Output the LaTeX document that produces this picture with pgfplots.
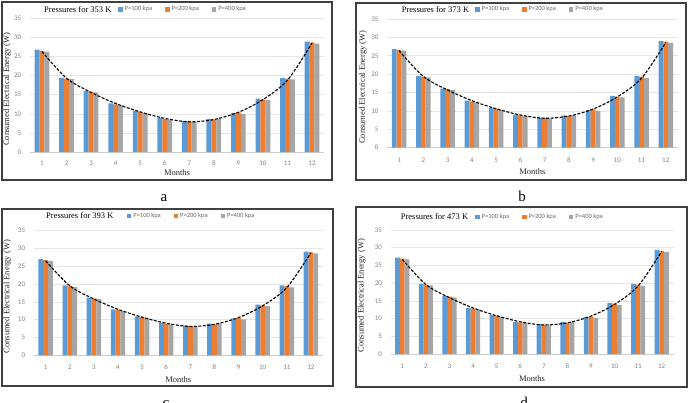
\documentclass[border=0pt]{standalone}
\usepackage{pgfplots}
\pgfplotsset{compat=1.18}
\usepackage{pgfplotstable}
\usepackage{fontspec}
\setmainfont{Liberation Serif}
\setsansfont{Carlito}

\definecolor{seriesA}{HTML}{5B9BD5}
\definecolor{seriesB}{HTML}{ED7D31}
\definecolor{seriesC}{HTML}{A5A5A5}
\definecolor{frame}{HTML}{404040}

% columns: month, P=100/200/400 kpa, fitted trend
\pgfplotstableread{
m  p100 p200 p400 trend
1  26.8 26.5 26.3 26.3
2  19.4 19.2 19.1 19.3
3  16.0 15.8 15.6 15.6
4  12.7 12.5 12.2 12.7
5  10.7 10.5 10.2 10.5
6  8.9  8.7  8.5  8.8
7  8.1  8.0  7.8  7.9
8  8.7  8.5  8.7  8.5
9  10.2 10.3 9.9  10.4
10 14.0 13.8 13.6 13.7
11 19.4 19.2 19.0 18.8
12 28.9 28.7 28.4 28.5
}\tabA
\pgfplotstableread{
m  p100 p200 p400 trend
1  26.8 26.6 26.4 26.4
2  19.5 19.3 19.1 19.4
3  16.1 15.9 15.7 15.7
4  12.8 12.6 12.3 12.8
5  10.8 10.6 10.3 10.6
6  9.0  8.8  8.6  8.9
7  8.2  8.1  7.9  8.0
8  8.8  8.6  8.8  8.6
9  10.3 10.4 10.0 10.5
10 14.1 13.9 13.7 13.8
11 19.5 19.3 19.0 18.9
12 29.0 28.8 28.5 28.6
}\tabB
\pgfplotstableread{
m  p100 p200 p400 trend
1  27.0 26.7 26.5 26.5
2  19.6 19.4 19.2 19.5
3  16.2 16.0 15.8 15.8
4  12.9 12.7 12.4 12.9
5  10.9 10.7 10.4 10.7
6  9.0  8.8  8.7  9.0
7  8.3  8.2  8.0  8.1
8  8.9  8.7  8.9  8.7
9  10.4 10.5 10.1 10.6
10 14.2 14.0 13.8 13.9
11 19.6 19.4 19.1 19.0
12 29.1 28.9 28.6 28.8
}\tabC
\pgfplotstableread{
m  p100 p200 p400 trend
1  27.2 26.9 26.7 26.7
2  19.8 19.6 19.4 19.6
3  16.4 16.2 16.0 15.9
4  13.0 12.8 12.6 13.0
5  11.0 10.8 10.5 10.8
6  9.1  8.9  8.8  9.1
7  8.4  8.3  8.1  8.2
8  9.0  8.8  9.0  8.8
9  10.5 10.6 10.2 10.7
10 14.4 14.2 13.9 14.0
11 19.7 19.5 19.2 19.2
12 29.4 29.1 28.8 29.0
}\tabD

\pgfplotsset{
  panel/.style={
    scale only axis, clip=false,
    xmin=0.5, xmax=12.5, ymin=0, ymax=35,
    xtick={1,...,12}, ytick={0,5,...,35},
    axis x line*=bottom, axis y line*=left,
    x axis line style={draw=black!20, line width=0.6pt},
    y axis line style={draw=none},
    major tick length=0pt,
    ymajorgrids, grid style={draw=black!10, line width=0.6pt},
    /pgf/number format/assume math mode=true,
    tick label style={font=\sffamily\fontsize{7}{8}\selectfont, text=black!50},
    yticklabel style={anchor=east, xshift=-5pt},
    xlabel={Months}, ylabel={Consumed Electrical Energy (W)},
    label style={font=\fontsize{8.5}{10}\selectfont, text=black!85},
    legend columns=-1,
    legend style={draw=none, fill=none, inner sep=0pt, anchor=west,
      font=\sffamily\fontsize{6.5}{7.5}\selectfont, text=black!60,
      /tikz/every even column/.append style={column sep=11pt}},
    legend image code/.code={\fill[##1] (0pt,-2.2pt) rectangle (4.4pt,2.2pt);},
  },
  bars/.style={ybar, bar width=0.2, draw=none, fill=#1},
  trend/.style={black, line width=1.1pt, dash pattern=on 3pt off 1.5pt,
    smooth, no markers, forget plot},
}

\newcommand{\titlefont}{\fontsize{8.5}{10}\selectfont}
\newcommand{\tagfont}{\fontsize{15}{18}\selectfont}

\begin{document}
\begin{tikzpicture}[x=1pt, y=1pt]
\useasboundingbox (0pt,0pt) rectangle (690pt,-402pt);

% ---------- a: 353 K ----------
\draw[frame, line width=1.6pt] (2pt,-2pt) rectangle (332pt,-180pt);
\begin{axis}[panel, at={(29.7pt,-152pt)}, anchor=south west,
  width=294.6pt, height=133.7pt,
  xticklabel style={anchor=center, yshift=-11.3pt},
  xlabel style={at={(axis description cs:0.5,-0.152)}, anchor=center},
  ylabel style={at={(axis description cs:-0.077,0.47)}, anchor=center},
  legend style={at={(axis description cs:0.30,1.067)}}]
\addplot[bars=seriesA, bar shift=-0.2] table[x=m, y=p100] {\tabA};
\addplot[bars=seriesB, bar shift=0]    table[x=m, y=p200] {\tabA};
\addplot[bars=seriesC, bar shift=0.2]  table[x=m, y=p400] {\tabA};
\addplot[trend] table[x=m, y=trend] {\tabA};
\legend{P=100 kpa, P=200 kpa, P=400 kpa}
\end{axis}
\node[anchor=west, inner sep=0pt, font=\titlefont] at (44pt,-9.3pt) {Pressures for 353 K};
\node[anchor=base, font=\tagfont] at (164pt,-201pt) {a};

% ---------- b: 373 K ----------
\draw[frame, line width=1.6pt] (356pt,-3pt) rectangle (686pt,-180pt);
\begin{axis}[panel, at={(386.9pt,-147.7pt)}, anchor=south west,
  width=291pt, height=128.7pt,
  xticklabel style={anchor=center, yshift=-12.3pt},
  xlabel style={at={(axis description cs:0.5,-0.186)}, anchor=center},
  ylabel style={at={(axis description cs:-0.083,0.47)}, anchor=center},
  legend style={at={(axis description cs:0.303,1.075)}}]
\addplot[bars=seriesA, bar shift=-0.2] table[x=m, y=p100] {\tabB};
\addplot[bars=seriesB, bar shift=0]    table[x=m, y=p200] {\tabB};
\addplot[bars=seriesC, bar shift=0.2]  table[x=m, y=p400] {\tabB};
\addplot[trend] table[x=m, y=trend] {\tabB};
\legend{P=100 kpa, P=200 kpa, P=400 kpa}
\end{axis}
\node[anchor=west, inner sep=0pt, font=\titlefont] at (401.7pt,-9.3pt) {Pressures for 373 K};
\node[anchor=base, font=\tagfont] at (522pt,-201pt) {b};

% ---------- c: 393 K ----------
\draw[frame, line width=1.6pt] (2pt,-209pt) rectangle (333pt,-386pt);
\begin{axis}[panel, at={(33.6pt,-355.3pt)}, anchor=south west,
  width=289.4pt, height=124.7pt,
  xticklabel style={anchor=center, yshift=-12pt},
  xlabel style={at={(axis description cs:0.5,-0.192)}, anchor=center},
  ylabel style={at={(axis description cs:-0.091,0.47)}, anchor=center},
  legend style={at={(axis description cs:0.322,1.118)}}]
\addplot[bars=seriesA, bar shift=-0.2] table[x=m, y=p100] {\tabC};
\addplot[bars=seriesB, bar shift=0]    table[x=m, y=p200] {\tabC};
\addplot[bars=seriesC, bar shift=0.2]  table[x=m, y=p400] {\tabC};
\addplot[trend] table[x=m, y=trend] {\tabC};
\legend{P=100 kpa, P=200 kpa, P=400 kpa}
\end{axis}
\node[anchor=west, inner sep=0pt, font=\titlefont] at (46pt,-216pt) {Pressures for 393 K};
\node[anchor=base, font=\tagfont] at (166pt,-407pt) {c};

% ---------- d: 473 K ----------
\draw[frame, line width=1.6pt] (356pt,-207pt) rectangle (687pt,-387pt);
\begin{axis}[panel, at={(390.5pt,-354pt)}, anchor=south west,
  width=283pt, height=124pt,
  xticklabel style={anchor=center, yshift=-12pt},
  xlabel style={at={(axis description cs:0.5,-0.2)}, anchor=center},
  ylabel style={at={(axis description cs:-0.102,0.47)}, anchor=center},
  legend style={at={(axis description cs:0.299,1.105)}}]
\addplot[bars=seriesA, bar shift=-0.2] table[x=m, y=p100] {\tabD};
\addplot[bars=seriesB, bar shift=0]    table[x=m, y=p200] {\tabD};
\addplot[bars=seriesC, bar shift=0.2]  table[x=m, y=p400] {\tabD};
\addplot[trend] table[x=m, y=trend] {\tabD};
\legend{P=100 kpa, P=200 kpa, P=400 kpa}
\end{axis}
\node[anchor=west, inner sep=0pt, font=\titlefont] at (400.7pt,-217pt) {Pressures for 473 K};
\node[anchor=base, font=\tagfont] at (524pt,-407pt) {d};
\end{tikzpicture}
\end{document}
